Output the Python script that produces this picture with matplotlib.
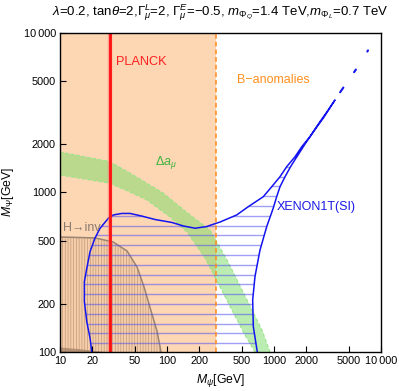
import numpy as np
import matplotlib
matplotlib.use("Agg")
import matplotlib.pyplot as plt
from matplotlib.patches import Polygon

plt.rcParams['font.family'] = ['Liberation Sans', 'DejaVu Sans']
plt.rcParams['mathtext.fontset'] = 'custom'
plt.rcParams['mathtext.rm'] = 'Liberation Sans'
plt.rcParams['mathtext.it'] = 'Liberation Sans:italic'
plt.rcParams['mathtext.bf'] = 'Liberation Sans:bold'
plt.rcParams['hatch.linewidth'] = 0.5

# ---------------- data ----------------
x_ticks = [10, 20, 50, 100, 200, 500, 1000, 2000, 5000, 10000]
x_ticklabels = ["10", "20", "50", "100", "200", "500", "1000", "2000", "5000", "10\u2009000"]
y_ticks = [100, 200, 500, 1000, 2000, 5000, 10000]
y_ticklabels = ["100", "200", "500", "1000", "2000", "5000", "10\u2009000"]

planck_x = 29.5
banom_x = 290.0

# Delta a_mu band
damu_upper_x = [10, 29.3, 50.2, 91.8, 164, 252, 372, 559, 773, 918]
damu_upper_y = [1795, 1560, 1268, 993, 723, 582, 367, 212, 137, 100]
damu_lower_x = [10, 29.3, 45.1, 65.0, 107, 154, 227, 300, 405, 535, 664]
damu_lower_y = [1288, 1143, 1007, 897, 702, 565, 388, 271, 183, 128, 100]

# H -> inv region
hinv_x = [10, 21.2, 31.3, 42.3, 52.5, 61.0, 70.9, 80.7, 88.0]
hinv_y = [526, 519, 490, 430, 341, 256, 181, 135, 100]
hinv2_x = [10, 15, 22, 30]
hinv2_y = [107.5, 105, 102, 100]

# XENON1T (SI) excluded region boundary
xen_left_x = [19.8, 19.1, 17.8, 16.9, 16.9, 17.8, 19.1, 21.2, 23.7, 28.3, 31.5, 37.7,
              45.1, 58.0, 77.3, 111, 142, 183, 235, 313, 448, 575, 794, 952, 1138,
              1315, 1572, 1815, 2168, 2690, 3215, 3715]
xen_left_y = [100, 122, 155, 207, 276, 335, 426, 517, 597, 689, 723, 739,
              739, 712, 677, 649, 617, 597, 612, 653, 723, 815, 941, 1087, 1256,
              1452, 1675, 1935, 2239, 2780, 3289, 3802]
xen_right_x = [3412, 2933, 2364, 1950, 1675, 1441, 1268, 1138, 1059, 985, 855, 740,
               664, 632, 641, 698]
xen_right_y = [3486, 2972, 2432, 2014, 1717, 1466, 1256, 1087, 941, 800, 611, 436,
               297, 212, 144, 100]
xen_dots_x = [[4150, 4450], [5600, 5830], [7450, 7560]]
xen_dots_y = [[4250, 4550], [5680, 5900], [7650, 7780]]

# ---------------- figure ----------------
fig = plt.figure(figsize=(3.99, 3.91), dpi=100)
ax = fig.add_axes([60/399, 1-352/391, (381-60)/399, (352-33)/391])
ax.set_xscale('log')
ax.set_yscale('log')
ax.set_xlim(10, 10000)
ax.set_ylim(100, 10000)

peach = '#FDD6B4'
ax.axvspan(10, banom_x, color=peach, zorder=0, lw=0)

# H -> inv
ax.fill_between(hinv_x, 100, hinv_y, facecolor=(0.6, 0.4, 0.25, 0.08),
                edgecolor='#C09A78', hatch='||||||', lw=0, zorder=1)
ax.plot(hinv_x, hinv_y, color='#9C8472', lw=1.1, zorder=1.5)
ax.fill_between(hinv2_x, 100, hinv2_y, color='#A88468', alpha=0.8, lw=0, zorder=1.5)

# Delta a_mu band
bx = list(damu_upper_x) + list(damu_lower_x[::-1])
by = list(damu_upper_y) + list(damu_lower_y[::-1])
ax.fill(bx, by, color='#78DC68', alpha=0.5, lw=0, zorder=2)
ax.plot(damu_upper_x, damu_upper_y, color='#9AE488', lw=0.8, ls=(0, (3, 2)), zorder=2.1)
ax.plot(damu_lower_x, damu_lower_y, color='#9AE488', lw=0.8, ls=(0, (3, 2)), zorder=2.1)

# XENON1T region
px = list(xen_left_x) + list(xen_right_x)
py = list(xen_left_y) + list(xen_right_y)
poly = Polygon(np.column_stack([px, py]), closed=True, facecolor='none',
               edgecolor='none', transform=ax.transData)
ax.add_patch(poly)
hatch_y = 10 ** (2.0545 + 0.0615 * np.arange(0, 26))
hl = ax.hlines(hatch_y, 10, 10000, colors='#5050F0', alpha=0.55, lw=1.0, zorder=2.5)
hl.set_clip_path(poly)
ax.plot(px, py, color='#1414F0', lw=1.1, zorder=3)
for dx, dy in zip(xen_dots_x, xen_dots_y):
    ax.plot(dx, dy, color='#1414F0', lw=1.5, solid_capstyle='round', zorder=3)

# B anomalies dashed line
ax.axvline(banom_x, color='#FF8A1C', lw=1.1, ls=(0, (3, 2)), zorder=3.5)

# PLANCK line
ax.axvline(planck_x, color='#FF7070', lw=3.2, alpha=0.5, zorder=3.6)
ax.axvline(planck_x, color='#FF1010', lw=2.0, zorder=3.7)

# labels
ax.text(33.4, 6580, 'PLANCK', color='#FF2020', fontsize=9.2, va='center', ha='left', zorder=5)
ax.text(451, 5070, 'B\u2212anomalies', color='#FF9020', fontsize=9, va='center', ha='left', zorder=5)
ax.text(77, 1552, r'$\Delta a_\mu$', color='#3CB43C', fontsize=9, va='center', ha='left', zorder=5)
ax.text(10.7, 599, 'H\u2192inv', color='#8C7B70', fontsize=9, va='center', ha='left', zorder=5)
ax.text(1059, 811, 'XENON1T(SI)', color='#1A1AE6', fontsize=9, va='center', ha='left', zorder=5)

ax.set_xticks(x_ticks)
ax.set_xticklabels(x_ticklabels)
ax.set_yticks(y_ticks)
ax.set_yticklabels(y_ticklabels)
ax.minorticks_off()
ax.tick_params(axis='both', which='major', direction='in', length=4, width=0.8,
               labelsize=7.8, top=False, right=False, pad=3)
for s in ax.spines.values():
    s.set_linewidth(1.0)
    s.set_zorder(10)

ax.set_xlabel(r'$M_\psi$[GeV]', fontsize=8.8, labelpad=4)
fig.text(8/399, 1-192/391, r'$M_\Psi$[GeV]', fontsize=8.8, rotation=90, ha='center', va='center')

fig.text(220/399, 1-13/391,
         r'$\lambda$=0.2, tan$\theta$=2,$\Gamma^L_\mu$=2, $\Gamma^E_\mu$=$-$0.5, $m_{\Phi_Q}$=1.4 TeV,$m_{\Phi_L}$=0.7 TeV',
         fontsize=9.5, ha='center', va='center')

fig.savefig('out.png', dpi=100)
